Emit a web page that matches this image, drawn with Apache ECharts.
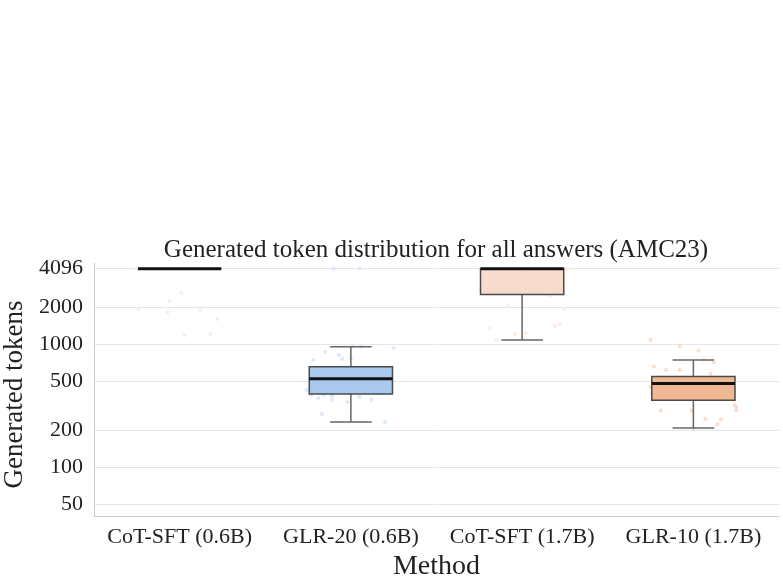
<!DOCTYPE html>
<html>
<head>
<meta charset="utf-8">
<script src="https://cdn.jsdelivr.net/npm/echarts@6/dist/echarts.min.js"></script>
<style>
html, body { margin: 0; padding: 0; background: #fff; }
#main { width: 783px; height: 582px; }
</style>
</head>
<body>
<div id="main"></div>
<script>
var methods = ['CoT-SFT (0.6B)', 'GLR-20 (0.6B)', 'CoT-SFT (1.7B)', 'GLR-10 (1.7B)'];
var yTicks = [50, 100, 200, 500, 1000, 2000, 4096];

// box stats per method: [lower whisker, q1, median, q3, upper whisker]
var boxStats = [
    [4096, 4096, 4096, 4096, 4096],
    [232, 392, 522, 653, 950],
    [1078, 2529, 4096, 4096, 4096],
    [208, 349, 477, 545, 741]
];

// individual answers (token counts) + their horizontal jitter
var cotSft06Vals = [4096, 4096, 4096, 4096, 1923, 2236, 2594, 1820, 1889, 1596, 1183, 1206];
var cotSft06Jit  = [-0.25, -0.11, 0.11, 0.16, -0.24, -0.06, 0.01, -0.07, 0.12, 0.22, 0.03, 0.18];

var glr20Vals = [4096, 4096, 963, 944, 927, 741, 860, 813, 755, 769, 422, 385, 364, 385, 378, 350, 338, 371, 350, 399, 482, 638, 270, 232];
var glr20Jit  = [-0.10, 0.05, 0.01, 0.06, 0.25, -0.22, -0.15, -0.07, -0.05, 0.00, -0.26, -0.23, -0.19, -0.16, -0.11, -0.11, -0.02, 0.05, 0.12, 0.18, 0.23, 0.23, -0.17, 0.20];

var cotSft17Vals = [4096, 4096, 4096, 2051, 1936, 1339, 1400, 1442, 1206, 1216, 1083, 2455];
var cotSft17Jit  = [-0.24, -0.01, 0.26, -0.08, 0.25, -0.19, 0.19, 0.22, -0.04, 0.02, -0.15, 0.16];

var glr10Vals = [1083, 963, 885, 745, 708, 656, 614, 614, 573, 447, 392, 288, 288, 247, 243, 223, 319, 290, 307, 207];
var glr10Jit  = [-0.25, -0.08, 0.03, 0.06, 0.12, -0.23, -0.16, -0.08, 0.10, -0.25, -0.24, -0.19, -0.01, 0.07, 0.16, 0.14, 0.24, 0.25, 0.25, 0.00];

var boxColors = ['#d3e3f6', '#a9c8ec', '#f7dccd', '#f0b892'];
var dotColors = ['#e6eff9', '#d2e3f7', '#fde8dc', '#fad6c0'];
var FONT = "'Liberation Serif', 'DejaVu Serif', serif";

var chartDom = document.getElementById('main');
var myChart = echarts.init(chartDom, null, { renderer: 'canvas' });

function stripData(idx, vals, jit) {
    var out = [];
    for (var i = 0; i < vals.length; i++) {
        out.push([idx + jit[i], vals[i]]);
    }
    return out;
}

var strips = [
    stripData(0, cotSft06Vals, cotSft06Jit),
    stripData(1, glr20Vals, glr20Jit),
    stripData(2, cotSft17Vals, cotSft17Jit),
    stripData(3, glr10Vals, glr10Jit)
];

var boxData = boxStats.map(function (s, i) {
    return [i, s[0], s[1], s[2], s[3], s[4]];
});

function renderBox(params, api) {
    var i = api.value(0);
    var lo = api.coord([i, api.value(1)]);
    var q1 = api.coord([i, api.value(2)]);
    var md = api.coord([i, api.value(3)]);
    var q3 = api.coord([i, api.value(4)]);
    var hi = api.coord([i, api.value(5)]);
    var band = api.coord([1, 1000])[0] - api.coord([0, 1000])[0];
    var half = band * 0.243;
    var cap = half / 2;
    var x = lo[0];
    var whisk = { stroke: '#666', lineWidth: 1.5 };
    return {
        type: 'group',
        children: [
            { type: 'line', shape: { x1: x, y1: q1[1], x2: x, y2: lo[1] }, style: whisk },
            { type: 'line', shape: { x1: x, y1: q3[1], x2: x, y2: hi[1] }, style: whisk },
            { type: 'line', shape: { x1: x - cap, y1: lo[1], x2: x + cap, y2: lo[1] }, style: whisk, invisible: lo[1] === q1[1] },
            { type: 'line', shape: { x1: x - cap, y1: hi[1], x2: x + cap, y2: hi[1] }, style: whisk, invisible: hi[1] === q3[1] },
            { type: 'rect', shape: { x: x - half, y: q3[1], width: half * 2, height: q1[1] - q3[1] },
              style: { fill: boxColors[params.dataIndex], stroke: '#4a4a4a', lineWidth: 1.5 } },
            { type: 'line', shape: { x1: x - half, y1: md[1], x2: x + half, y2: md[1] },
              style: { stroke: '#111', lineWidth: 3 } }
        ]
    };
}

var option = {
    animation: false,
    title: {
        text: 'Generated token distribution for all answers (AMC23)',
        left: 431,
        top: 233,
        textAlign: 'center',
        textStyle: { fontFamily: FONT, fontSize: 25, fontWeight: 'normal', color: '#222' }
    },
    grid: { left: 94, right: 4, top: 263, bottom: 66, outerBoundsMode: 'none', containLabel: false },
    xAxis: [
        {
            type: 'category',
            data: methods,
            name: 'Method',
            nameLocation: 'middle',
            nameGap: 37,
            nameTextStyle: { fontFamily: FONT, fontSize: 28, color: '#222' },
            axisLine: { lineStyle: { color: '#cccccc', width: 1 } },
            axisTick: { show: false },
            axisLabel: { interval: 0, fontFamily: FONT, fontSize: 22, color: '#222', margin: 10 },
            splitLine: { show: false }
        },
        {
            type: 'value',
            min: -0.5,
            max: 3.5,
            show: false
        }
    ],
    yAxis: {
        type: 'log',
        logBase: 10,
        min: 40,
        max: 4555,
        name: 'Generated tokens',
        nameLocation: 'middle',
        nameGap: 62,
        nameTextStyle: { fontFamily: FONT, fontSize: 27, color: '#222', padding: [0, 10, 0, 0] },
        axisLine: { show: true, onZero: false, lineStyle: { color: '#cccccc', width: 1 } },
        axisTick: { show: false, customValues: yTicks },
        axisLabel: {
            customValues: yTicks,
            fontFamily: FONT,
            fontSize: 22,
            color: '#222',
            margin: 11,
            formatter: function (v) { return String(Math.round(v)); }
        },
        splitLine: { show: true, lineStyle: { color: '#e6e6e6', width: 1 } }
    },
    series: [
        { type: 'scatter', xAxisIndex: 1, data: strips[0], symbolSize: 4, itemStyle: { color: dotColors[0] }, z: 1, silent: true },
        { type: 'scatter', xAxisIndex: 1, data: strips[1], symbolSize: 4, itemStyle: { color: dotColors[1] }, z: 1, silent: true },
        { type: 'scatter', xAxisIndex: 1, data: strips[2], symbolSize: 4, itemStyle: { color: dotColors[2] }, z: 1, silent: true },
        { type: 'scatter', xAxisIndex: 1, data: strips[3], symbolSize: 4, itemStyle: { color: dotColors[3] }, z: 1, silent: true },
        { type: 'custom', xAxisIndex: 0, renderItem: renderBox, data: boxData, z: 3, silent: true,
          encode: { x: 0, y: [1, 2, 3, 4, 5] } }
    ]
};

option && myChart.setOption(option);
</script>
</body>
</html>
